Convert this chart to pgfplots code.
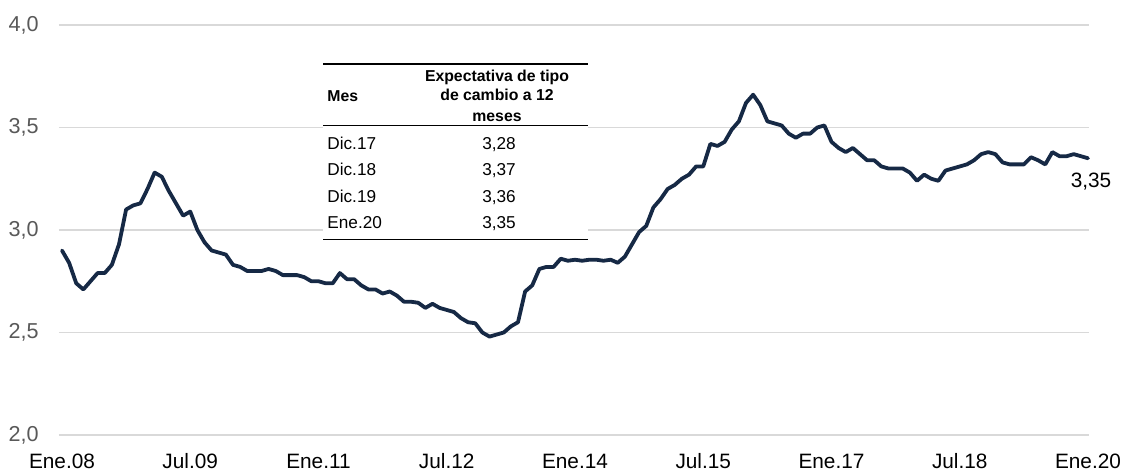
\documentclass[border=0pt]{standalone}
\usepackage{fontspec}
\setmainfont{Liberation Sans}
\usepackage{pgfplots}
\pgfplotsset{compat=1.18}
\usepackage{pgfplotstable}
\definecolor{navy}{RGB}{22,41,69}
\definecolor{gridgray}{RGB}{217,217,217}
\definecolor{ticklab}{RGB}{89,89,89}
\pgfplotstableread{
m v
0 2.90
1 2.84
2 2.74
3 2.71
4 2.75
5 2.79
6 2.79
7 2.83
8 2.93
9 3.10
10 3.12
11 3.13
12 3.20
13 3.28
14 3.26
15 3.19
16 3.13
17 3.07
18 3.09
19 3.00
20 2.94
21 2.90
22 2.89
23 2.88
24 2.83
25 2.82
26 2.80
27 2.80
28 2.80
29 2.81
30 2.80
31 2.78
32 2.78
33 2.78
34 2.77
35 2.75
36 2.75
37 2.74
38 2.74
39 2.79
40 2.76
41 2.76
42 2.73
43 2.71
44 2.71
45 2.69
46 2.70
47 2.68
48 2.65
49 2.65
50 2.645
51 2.62
52 2.64
53 2.62
54 2.61
55 2.60
56 2.57
57 2.55
58 2.545
59 2.50
60 2.48
61 2.49
62 2.50
63 2.53
64 2.55
65 2.70
66 2.73
67 2.81
68 2.82
69 2.82
70 2.86
71 2.85
72 2.855
73 2.85
74 2.855
75 2.855
76 2.85
77 2.855
78 2.84
79 2.87
80 2.93
81 2.99
82 3.02
83 3.11
84 3.15
85 3.20
86 3.22
87 3.25
88 3.27
89 3.31
90 3.31
91 3.42
92 3.41
93 3.43
94 3.49
95 3.53
96 3.62
97 3.66
98 3.61
99 3.53
100 3.52
101 3.51
102 3.47
103 3.45
104 3.47
105 3.47
106 3.50
107 3.51
108 3.43
109 3.40
110 3.38
111 3.40
112 3.37
113 3.34
114 3.34
115 3.31
116 3.30
117 3.30
118 3.30
119 3.28
120 3.24
121 3.27
122 3.25
123 3.24
124 3.29
125 3.30
126 3.31
127 3.32
128 3.34
129 3.37
130 3.38
131 3.37
132 3.33
133 3.32
134 3.32
135 3.32
136 3.355
137 3.34
138 3.32
139 3.38
140 3.36
141 3.36
142 3.37
143 3.36
144 3.35
}\datatable
\begin{document}
\begin{tikzpicture}
\begin{axis}[
  at={(0,0)}, anchor=south west,
  scale only axis, width=515pt, height=205pt,
  xmin=-0.42, xmax=144.14, ymin=2, ymax=4,
  ytick={2,2.5,3,3.5,4},
  xtick={0,18,36,54,72,90,108,126,144},
  xticklabels={Ene.08,Jul.09,Ene.11,Jul.12,Ene.14,Jul.15,Ene.17,Jul.18,Ene.20},
  ymajorgrids,
  grid style={gridgray, line width=0.75pt},
  axis line style={draw=none},
  major tick length=0pt,
  tick style={draw=none},
  clip=false,
  xticklabel style={font=\fontsize{10.4}{12}\selectfont, anchor=north, inner sep=0pt, yshift=-9.2pt},
  yticklabel style={font=\fontsize{10.8}{13}\selectfont, text=ticklab, anchor=east, inner sep=0pt, xshift=-10pt,
    /pgf/number format/.cd, fixed, fixed zerofill, precision=1, use comma, assume math mode=true},
]
\addplot[navy, line width=1.9pt, line join=round, line cap=round] table[x=m,y=v]{\datatable};
\node[anchor=north, inner sep=0pt, font=\fontsize{10.4}{12}\selectfont, yshift=-7.3pt, xshift=1.5pt] at (axis cs:144,3.35) {3,35};
\end{axis}
\begin{scope}[x=0.5pt,y=-0.5pt,shift={(-59,-435)}]
\fill[white] (323,64) rectangle (588,240);
\draw[line width=0.75pt] (323,64) -- (588,64);
\draw[line width=0.5pt] (323,126) -- (588,126);
\draw[line width=0.75pt] (323,239.5) -- (588,239.5);
\node[anchor=base west, inner sep=0pt, font=\bfseries\fontsize{7.9}{10}\selectfont] at (327,101.5) {Mes};
\node[anchor=base, inner sep=0pt, font=\bfseries\fontsize{7.9}{10}\selectfont] at (497,81.7) {Expectativa de tipo};
\node[anchor=base, inner sep=0pt, font=\bfseries\fontsize{7.9}{10}\selectfont] at (497,100.7) {de cambio a 12};
\node[anchor=base, inner sep=0pt, font=\bfseries\fontsize{7.9}{10}\selectfont] at (497,121.7) {meses};
\node[anchor=base west, inner sep=0pt, font=\fontsize{8.6}{10}\selectfont] at (327,149.3) {Dic.17};
\node[anchor=base west, inner sep=0pt, font=\fontsize{8.6}{10}\selectfont] at (327,175.7) {Dic.18};
\node[anchor=base west, inner sep=0pt, font=\fontsize{8.6}{10}\selectfont] at (327,202.3) {Dic.19};
\node[anchor=base west, inner sep=0pt, font=\fontsize{8.6}{10}\selectfont] at (327,228.3) {Ene.20};
\node[anchor=base, inner sep=0pt, font=\fontsize{8.6}{10}\selectfont] at (499,149.3) {3,28};
\node[anchor=base, inner sep=0pt, font=\fontsize{8.6}{10}\selectfont] at (499,175.7) {3,37};
\node[anchor=base, inner sep=0pt, font=\fontsize{8.6}{10}\selectfont] at (499,202.3) {3,36};
\node[anchor=base, inner sep=0pt, font=\fontsize{8.6}{10}\selectfont] at (499,228.3) {3,35};
\pgfresetboundingbox
\path[use as bounding box] (0,0) rectangle (1124,471);
\end{scope}
\end{tikzpicture}
\end{document}
